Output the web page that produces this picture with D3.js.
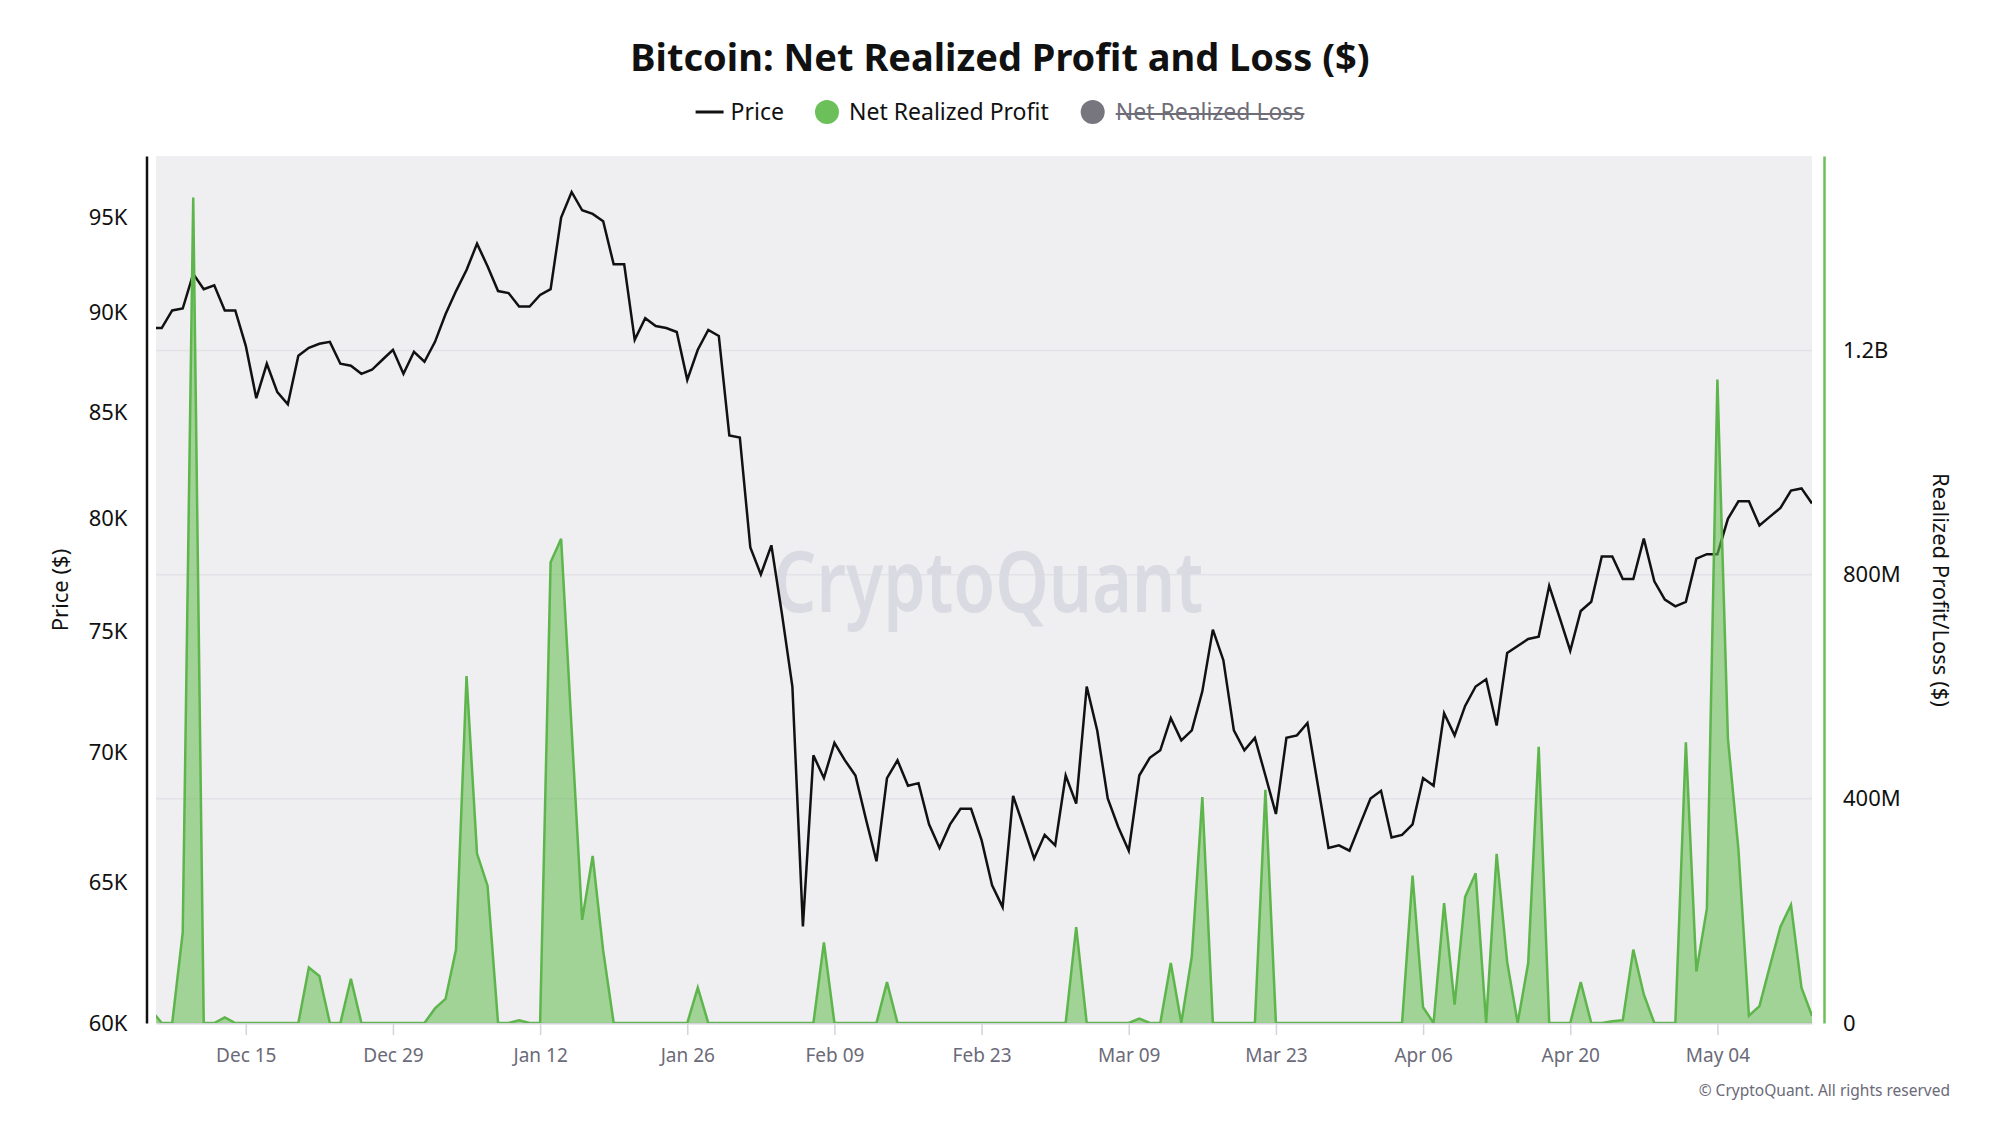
<!DOCTYPE html>
<meta charset="utf-8">
<head>
<style>
body { margin: 0; background: #fff; }
svg text { font-family: "Noto Sans", "Open Sans", sans-serif; }
.axis text { fill: #111; }
.xaxis text { fill: #6b6a78; }
</style>
</head>
<body>
<script src="https://d3js.org/d3.v7.min.js"></script>
<script>

// daily series, first day 2025-12-06
var startDate = "2025-12-06";

// BTC price, thousands of $
var priceK = [
  89.2, 89.2, 90.1, 90.2, 92.0, 91.2, 91.4, 90.1, 90.1, 88.3,
  85.7, 87.4, 86.0, 85.4, 87.8, 88.2, 88.4, 88.5, 87.4, 87.3,
  86.9, 87.1, 87.6, 88.1, 86.9, 88.0, 87.5, 88.5, 89.9, 91.1,
  92.2, 93.6, 92.4, 91.1, 91.0, 90.3, 90.3, 90.9, 91.2, 95.0,
  96.4, 95.4, 95.2, 94.8, 92.5, 92.5, 88.6, 89.7, 89.3, 89.2,
  89.0, 86.6, 88.1, 89.1, 88.8, 83.9, 83.8, 78.7, 77.5, 78.8,
  75.8, 72.7, 63.4, 69.9, 69.0, 70.4, 69.7, 69.1, 67.4, 65.8,
  69.0, 69.7, 68.7, 68.8, 67.2, 66.3, 67.2, 67.8, 67.8, 66.6,
  64.9, 64.1, 68.3, 67.1, 65.9, 66.8, 66.4, 69.1, 68.0, 72.7,
  70.9, 68.2, 67.1, 66.2, 69.1, 69.8, 70.1, 71.4, 70.5, 70.9,
  72.5, 75.1, 73.8, 70.9, 70.1, 70.6, 69.1, 67.6, 70.6, 70.7,
  71.2, 68.7, 66.3, 66.4, 66.2, 67.2, 68.2, 68.5, 66.7, 66.8,
  67.2, 69.0, 68.7, 71.6, 70.7, 71.9, 72.7, 73.0, 71.1, 74.1,
  74.4, 74.7, 74.8, 77.0, 75.6, 74.2, 75.9, 76.3, 78.3, 78.3,
  77.3, 77.3, 79.1, 77.2, 76.4, 76.1, 76.3, 78.2, 78.4, 78.4,
  80.0, 80.8, 80.8, 79.7, 80.1, 80.5, 81.3, 81.4, 80.7
];

// net realized profit, millions of $
var profitM = [
  23, 0, 0, 161, 1473, 0, 0, 10, 0, 0,
  0, 0, 0, 0, 0, 99, 84, 0, 0, 79,
  0, 0, 0, 0, 0, 0, 0, 26, 43, 131,
  619, 302, 245, 0, 0, 5, 0, 0, 822, 864,
  524, 184, 298, 129, 0, 0, 0, 0, 0, 0,
  0, 0, 63, 0, 0, 0, 0, 0, 0, 0,
  0, 0, 0, 0, 144, 0, 0, 0, 0, 0,
  73, 0, 0, 0, 0, 0, 0, 0, 0, 0,
  0, 0, 0, 0, 0, 0, 0, 0, 171, 0,
  0, 0, 0, 0, 8, 0, 0, 107, 0, 119,
  403, 0, 0, 0, 0, 0, 416, 0, 0, 0,
  0, 0, 0, 0, 0, 0, 0, 0, 0, 0,
  263, 28, 0, 214, 33, 225, 267, 0, 302, 109,
  0, 107, 493, 0, 0, 0, 73, 0, 0, 3,
  5, 131, 51, 0, 0, 0, 501, 92, 204, 1148,
  508, 310, 13, 30, 102, 172, 211, 63, 13
];

var xTickDates = ["2025-12-15", "2025-12-29", "2026-01-12", "2026-01-26", "2026-02-09", "2026-02-23",
                  "2026-03-09", "2026-03-23", "2026-04-06", "2026-04-20", "2026-05-04"];
var xTickLabels = ["Dec 15", "Dec 29", "Jan 12", "Jan 26", "Feb 09", "Feb 23",
                   "Mar 09", "Mar 23", "Apr 06", "Apr 20", "May 04"];
var priceTicks = [60000, 65000, 70000, 75000, 80000, 85000, 90000, 95000];
var priceTickLabels = ["60K", "65K", "70K", "75K", "80K", "85K", "90K", "95K"];
var profitTicks = [0, 400e6, 800e6, 1200e6];
var profitTickLabels = ["0", "400M", "800M", "1.2B"];

var width = 2000, height = 1125;
var plot = {left: 156, right: 1812, top: 156, bottom: 1023};

var parse = d3.utcParse("%Y-%m-%d");
var t0 = parse(startDate);
var data = priceK.map(function (p, i) {
  return {date: d3.utcDay.offset(t0, i), price: p * 1000, profit: profitM[i] * 1e6};
});

var x = d3.scaleUtc()
    .domain([d3.utcHour.offset(t0, 11), d3.utcDay.offset(t0, priceK.length - 1)])
    .range([plot.left, plot.right]);
var yPrice = d3.scaleLog().domain([60000, 98400]).range([plot.bottom, plot.top]);
var yProfit = d3.scaleLinear().domain([0, 1547e6]).range([plot.bottom, plot.top]);

var svg = d3.select("body").append("svg")
    .attr("width", width)
    .attr("height", height);

svg.append("defs").append("clipPath")
    .attr("id", "clip")
  .append("rect")
    .attr("x", plot.left).attr("y", plot.top)
    .attr("width", plot.right - plot.left)
    .attr("height", plot.bottom - plot.top);

// title
svg.append("text")
    .attr("x", 1000).attr("y", 71)
    .attr("text-anchor", "middle")
    .style("font-size", "38px")
    .style("font-weight", "700")
    .style("fill", "#111")
    .text("Bitcoin: Net Realized Profit and Loss ($)");

// legend
var legend = svg.append("g");
var lx = 0, ly = 112;
legend.append("line")
    .attr("x1", lx).attr("x2", lx + 28).attr("y1", ly).attr("y2", ly)
    .attr("stroke", "#111").attr("stroke-width", 3);
var t1 = legend.append("text").attr("x", lx + 35).attr("y", ly + 8)
    .style("font-size", "23px").style("fill", "#111").text("Price");
lx += 35 + t1.node().getComputedTextLength() + 31;
legend.append("circle").attr("cx", lx + 12).attr("cy", ly).attr("r", 12).attr("fill", "#6cc05a");
var t2 = legend.append("text").attr("x", lx + 34).attr("y", ly + 8)
    .style("font-size", "23px").style("fill", "#111").text("Net Realized Profit");
lx += 34 + t2.node().getComputedTextLength() + 32;
legend.append("circle").attr("cx", lx + 12).attr("cy", ly).attr("r", 12).attr("fill", "#77767f");
var t3 = legend.append("text").attr("x", lx + 35).attr("y", ly + 8)
    .style("font-size", "23px").style("fill", "#6f6e78").text("Net Realized Loss");
var w3 = t3.node().getComputedTextLength();
legend.append("line")
    .attr("x1", lx + 35).attr("x2", lx + 35 + w3).attr("y1", ly + 2).attr("y2", ly + 2)
    .attr("stroke", "#6f6e78").attr("stroke-width", 2);
lx += 35 + w3;
legend.attr("transform", "translate(" + (1000 - lx / 2) + ",0)");

// plot background
svg.append("rect")
    .attr("x", plot.left).attr("y", plot.top)
    .attr("width", plot.right - plot.left)
    .attr("height", plot.bottom - plot.top)
    .attr("fill", "#efeff2");

// grid lines follow the right axis
svg.append("g").selectAll("line")
    .data(profitTicks.slice(1))
  .enter().append("line")
    .attr("x1", plot.left).attr("x2", plot.right)
    .attr("y1", function (d) { return yProfit(d); })
    .attr("y2", function (d) { return yProfit(d); })
    .attr("stroke", "#e2e2e8").attr("stroke-width", 1.5);

// watermark
svg.append("text")
    .attr("x", 988).attr("y", 612)
    .attr("text-anchor", "middle")
    .attr("textLength", 430)
    .attr("lengthAdjust", "spacingAndGlyphs")
    .style("font-size", "84px")
    .style("font-weight", "600")
    .style("fill", "#dadae2")
    .text("CryptoQuant");

// x axis
var xAxis = d3.axisBottom(x)
    .tickValues(xTickDates.map(parse))
    .tickFormat(function (d, i) { return xTickLabels[i]; })
    .tickSize(12).tickSizeOuter(0).tickPadding(14);
var gx = svg.append("g")
    .attr("class", "xaxis")
    .attr("transform", "translate(0," + plot.bottom + ")")
    .call(xAxis);
gx.select(".domain").attr("stroke", "#d4d4dc").attr("stroke-width", 2);
gx.selectAll(".tick line").attr("stroke", "#d4d4dc").attr("stroke-width", 1.5);
gx.selectAll("text").style("font-size", "19px").attr("fill", "#6b6a78");

// left price axis
var gl = svg.append("g")
    .attr("class", "axis")
    .attr("transform", "translate(146.5,0)")
    .call(d3.axisLeft(yPrice)
      .tickValues(priceTicks)
      .tickFormat(function (d, i) { return priceTickLabels[i]; })
      .tickSize(0).tickSizeOuter(0).tickPadding(19));
gl.select(".domain").attr("stroke", "#111").attr("stroke-width", 2.5);
gl.selectAll("text").style("font-size", "22px").attr("fill", "#111");

// right profit axis
var gr = svg.append("g")
    .attr("class", "axis")
    .attr("transform", "translate(1824,0)")
    .call(d3.axisRight(yProfit)
      .tickValues(profitTicks)
      .tickFormat(function (d, i) { return profitTickLabels[i]; })
      .tickSize(0).tickSizeOuter(0).tickPadding(19));
gr.select(".domain").attr("stroke", "#6cc05a").attr("stroke-width", 2.5);
gr.selectAll("text").style("font-size", "22px").attr("fill", "#111");

// axis titles
svg.append("text")
    .attr("transform", "translate(68,590) rotate(-90)")
    .attr("text-anchor", "middle")
    .style("font-size", "22px").style("fill", "#111")
    .text("Price ($)");
svg.append("text")
    .attr("transform", "translate(1933,590) rotate(90)")
    .attr("text-anchor", "middle")
    .style("font-size", "22px").style("fill", "#111")
    .text("Realized Profit/Loss ($)");

// series
var series = svg.append("g").attr("clip-path", "url(#clip)");

var area = d3.area()
    .x(function (d) { return x(d.date); })
    .y0(plot.bottom)
    .y1(function (d) { return yProfit(d.profit); });
var profitLine = d3.line()
    .x(function (d) { return x(d.date); })
    .y(function (d) { return yProfit(d.profit); });
var priceLine = d3.line()
    .x(function (d) { return x(d.date); })
    .y(function (d) { return yPrice(d.price); });

series.append("path")
    .datum(data)
    .attr("d", priceLine)
    .attr("fill", "none")
    .attr("stroke", "#111")
    .attr("stroke-width", 2.5)
    .attr("stroke-linejoin", "miter");

series.append("path")
    .datum(data)
    .attr("d", area)
    .attr("fill", "#6cc05a")
    .attr("fill-opacity", 0.6);
series.append("path")
    .datum(data)
    .attr("d", profitLine)
    .attr("fill", "none")
    .attr("stroke", "#5db54b")
    .attr("stroke-width", 2.5);

// credit
svg.append("text")
    .attr("x", 1950).attr("y", 1096)
    .attr("text-anchor", "end")
    .style("font-size", "15.5px").style("fill", "#6b6a78")
    .text("\u00a9 CryptoQuant. All rights reserved");

</script>
</body>
